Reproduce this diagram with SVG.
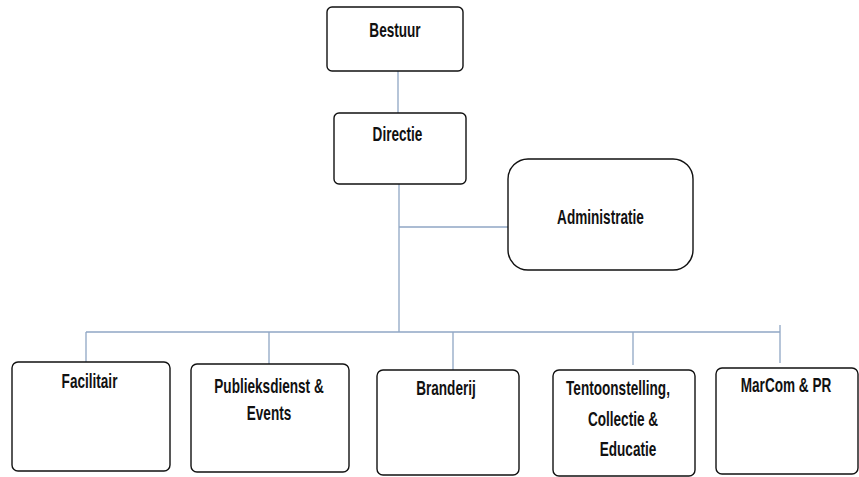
<svg xmlns="http://www.w3.org/2000/svg" width="859" height="477" viewBox="0 0 859 477">
<style>
.box{fill:#fff;stroke:#111;stroke-width:1.4}
.t{font-family:"Liberation Sans",Arial,sans-serif;font-weight:bold;font-size:14px;fill:#111;text-anchor:middle}
.c{stroke:#8fa6c4;stroke-width:1.3;fill:none}
</style>
<rect width="859" height="477" fill="#fff"/>
<g id="connectors">
<line class="c" x1="398" y1="71" x2="398" y2="113"/>
<line class="c" x1="399" y1="184" x2="399" y2="332"/>
<line class="c" x1="399" y1="227" x2="508" y2="227"/>
<line class="c" x1="86" y1="332" x2="780" y2="332"/>
<line class="c" x1="86" y1="332" x2="86" y2="362"/>
<line class="c" x1="269" y1="332" x2="269" y2="364"/>
<line class="c" x1="453" y1="332" x2="453" y2="370"/>
<line class="c" x1="633" y1="332" x2="633" y2="365"/>
<line class="c" x1="780" y1="325" x2="780" y2="363"/>
</g>
<g id="bestuur">
<rect class="box" x="327" y="7" width="136" height="64" rx="5"/>
<text class="t" transform="translate(395 37) scale(0.97 1.45)">Bestuur</text>
</g>
<g id="directie">
<rect class="box" x="334" y="113" width="132" height="71" rx="5"/>
<text class="t" transform="translate(397.5 141) scale(0.97 1.45)">Directie</text>
</g>
<g id="administratie">
<rect class="box" x="508" y="159" width="185" height="111" rx="20"/>
<text class="t" transform="translate(600.5 224) scale(0.97 1.45)">Administratie</text>
</g>
<g id="facilitair">
<rect class="box" x="12" y="362" width="158" height="109" rx="6"/>
<text class="t" transform="translate(89.5 388) scale(0.97 1.45)">Facilitair</text>
</g>
<g id="publieksdienst">
<rect class="box" x="191" y="364" width="158" height="108" rx="6"/>
<text class="t" transform="translate(269 393) scale(0.97 1.45)">Publieksdienst &amp;</text>
<text class="t" transform="translate(269 420) scale(0.97 1.45)">Events</text>
</g>
<g id="branderij">
<rect class="box" x="377" y="370" width="142" height="105" rx="6"/>
<text class="t" transform="translate(446 395) scale(0.97 1.45)">Branderij</text>
</g>
<g id="tentoonstelling">
<rect class="box" x="553" y="370" width="142" height="106" rx="6"/>
<text class="t" transform="translate(618 395) scale(0.97 1.45)">Tentoonstelling,</text>
<text class="t" transform="translate(623 426) scale(0.97 1.45)">Collectie &amp;</text>
<text class="t" transform="translate(628 456) scale(0.97 1.45)">Educatie</text>
</g>
<g id="marcom">
<rect class="box" x="716" y="368" width="142" height="106" rx="6"/>
<text class="t" transform="translate(786 392) scale(0.97 1.45)">MarCom &amp; PR</text>
</g>
</svg>
